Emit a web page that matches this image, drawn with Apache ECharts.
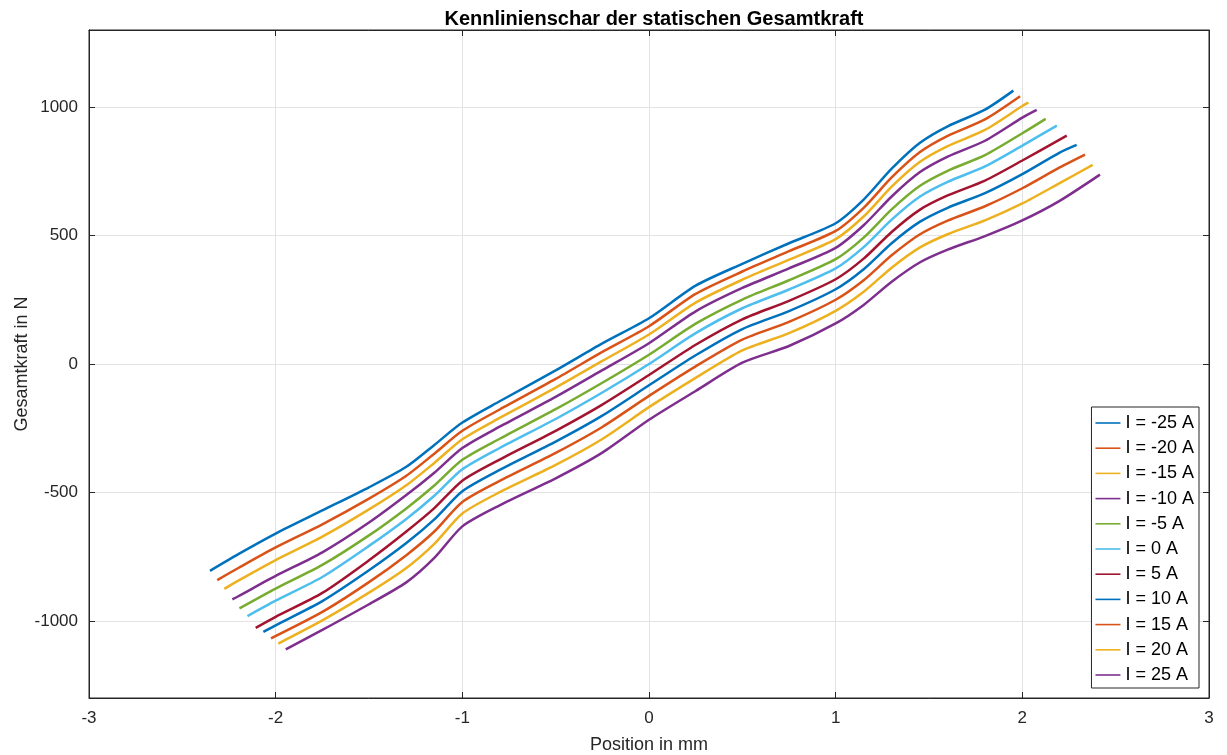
<!DOCTYPE html>
<html>
<head>
<meta charset="utf-8">
<script src="https://cdn.jsdelivr.net/npm/echarts@6/dist/echarts.min.js"></script>
<style>
html,body{margin:0;padding:0;background:#fff;}
#chart{width:1227px;height:755px;}
</style>
</head>
<body>
<div id="chart"></div>
<script>
// Legend names (currents)
const currentNames = ['I = -25 A','I = -20 A','I = -15 A','I = -10 A','I = -5 A','I = 0 A','I = 5 A','I = 10 A','I = 15 A','I = 20 A','I = 25 A'];

// [position mm, force N]
const curveM25 = [[-2.352,-805],[-2.2,-740],[-2.0,-660],[-1.75,-570],[-1.5,-480],[-1.3,-400],[-1.15,-315],[-1.0,-228],[-0.8,-145],[-0.5,-25],[-0.25,80],[0,178],[0.25,305],[0.5,390],[0.75,470],[1.0,548],[1.15,640],[1.3,760],[1.45,860],[1.6,925],[1.8,990],[1.952,1064]];
const curveM20 = [[-2.313,-841],[-2.2,-794],[-2.0,-714],[-1.75,-624],[-1.5,-524],[-1.3,-435],[-1.15,-349],[-1.0,-260],[-0.8,-177],[-0.5,-58],[-0.25,47],[0,147],[0.25,273],[0.5,360],[0.75,439],[1.0,518],[1.15,608],[1.3,726],[1.45,824],[1.6,888],[1.8,952],[1.988,1042]];
const curveM15 = [[-2.275,-875],[-2.2,-843],[-2.0,-763],[-1.75,-672],[-1.5,-566],[-1.3,-472],[-1.15,-385],[-1.0,-293],[-0.8,-210],[-0.5,-92],[-0.25,12],[0,115],[0.25,239],[0.5,328],[0.75,406],[1.0,486],[1.15,574],[1.3,690],[1.45,786],[1.6,848],[1.8,911],[2.0,1004],[2.033,1017]];
const curveM10 = [[-2.232,-916],[-2.2,-904],[-2.0,-825],[-1.75,-733],[-1.5,-617],[-1.3,-510],[-1.15,-423],[-1.0,-327],[-0.8,-244],[-0.5,-128],[-0.25,-24],[0,81],[0.25,205],[0.5,296],[0.75,372],[1.0,452],[1.15,540],[1.3,652],[1.45,746],[1.6,807],[1.8,869],[2.0,959],[2.077,989]];
const curveM5 = [[-2.194,-951],[-2.0,-874],[-1.75,-782],[-1.5,-667],[-1.3,-562],[-1.15,-473],[-1.0,-373],[-0.8,-291],[-0.5,-176],[-0.25,-73],[0,36],[0.25,157],[0.5,251],[0.75,326],[1.0,408],[1.15,492],[1.3,602],[1.45,693],[1.6,752],[1.8,813],[2.0,898],[2.125,954]];
const curveP0 = [[-2.151,-981],[-2.0,-921],[-1.75,-829],[-1.5,-708],[-1.3,-603],[-1.15,-513],[-1.0,-410],[-0.8,-327],[-0.5,-214],[-0.25,-111],[0,0],[0.25,120],[0.5,217],[0.75,290],[1.0,372],[1.15,455],[1.3,562],[1.45,651],[1.6,709],[1.8,769],[2.0,850],[2.185,928]];
const curveP5 = [[-2.107,-1027],[-2.0,-984],[-1.75,-891],[-1.5,-764],[-1.3,-652],[-1.15,-561],[-1.0,-454],[-0.8,-372],[-0.5,-260],[-0.25,-158],[0,-43],[0.25,75],[0.5,174],[0.75,246],[1.0,330],[1.15,410],[1.3,514],[1.45,600],[1.6,656],[1.8,714],[2.0,792],[2.238,889]];
const curveP10 = [[-2.066,-1043],[-2.0,-1017],[-1.75,-923],[-1.5,-803],[-1.3,-697],[-1.15,-605],[-1.0,-495],[-0.8,-412],[-0.5,-302],[-0.25,-201],[0,-83],[0.25,34],[0.5,136],[0.75,206],[1.0,291],[1.15,369],[1.3,470],[1.45,553],[1.6,608],[1.8,665],[2.0,739],[2.2,823],[2.291,853]];
const curveP15 = [[-2.025,-1068],[-1.75,-965],[-1.5,-849],[-1.3,-744],[-1.15,-652],[-1.0,-537],[-0.8,-455],[-0.5,-346],[-0.25,-245],[0,-124],[0.25,-9],[0.5,95],[0.75,164],[1.0,250],[1.15,326],[1.3,423],[1.45,504],[1.6,558],[1.8,614],[2.0,684],[2.2,765],[2.336,815]];
const curveP20 = [[-1.986,-1088],[-1.75,-998],[-1.5,-890],[-1.3,-794],[-1.15,-700],[-1.0,-582],[-0.8,-499],[-0.5,-393],[-0.25,-292],[0,-168],[0.25,-54],[0.5,53],[0.75,120],[1.0,207],[1.15,281],[1.3,375],[1.45,453],[1.6,505],[1.8,559],[2.0,625],[2.2,704],[2.377,775]];
const curveP25 = [[-1.946,-1111],[-1.75,-1035],[-1.5,-935],[-1.3,-850],[-1.15,-755],[-1.0,-632],[-0.8,-550],[-0.5,-445],[-0.25,-345],[0,-217],[0.25,-105],[0.5,5],[0.75,70],[1.0,158],[1.15,230],[1.3,320],[1.45,395],[1.6,445],[1.8,498],[2.0,559],[2.2,635],[2.416,737]];

const curves = [curveM25,curveM20,curveM15,curveM10,curveM5,curveP0,curveP5,curveP10,curveP15,curveP20,curveP25];
const colors = ['#0072BD','#D95319','#EDB120','#7E2F8E','#77AC30','#4DBEEE','#A2142F','#0072BD','#D95319','#EDB120','#7E2F8E'];

const FONT = '"Liberation Sans", Arial, Helvetica, sans-serif';
const axisCol = '#262626';

const chart = echarts.init(document.getElementById('chart'), null, {renderer:'canvas'});

const series = curves.map((c, i) => ({
  name: currentNames[i],
  type: 'line',
  data: c,
  symbol: 'none',
  showSymbol: false,
  smooth: 0.25,
  lineStyle: {width: 2.5, color: colors[i]},
  itemStyle: {color: colors[i]},
  emphasis: {disabled: true},
  animation: false,
  z: 2 + i
}));

chart.setOption({
  animation: false,
  backgroundColor: '#fff',
  color: colors,
  title: {
    text: 'Kennlinienschar der statischen Gesamtkraft',
    left: 649, top: 4, textAlign: 'center',
    textStyle: {fontFamily: FONT, fontSize: 20, fontWeight: 'bold', color: '#000'}
  },
  grid: {left: 89, right: 18, top: 30, bottom: 57, show: true, borderColor: axisCol, borderWidth: 1, backgroundColor: '#fff',
    containLabel: false, outerBoundsMode: 'none'},
  legend: {
    orient: 'vertical', right: 28, bottom: 67,
    data: currentNames,
    icon: 'rect',
    backgroundColor: '#fff', borderColor: axisCol, borderWidth: 1, borderRadius: 0,
    padding: [7, 5, 4, 4],
    itemWidth: 25, itemHeight: 1.6, itemGap: 7.2,
    textStyle: {fontFamily: FONT, fontSize: 18, lineHeight: 18, color: '#000'},
    selectedMode: false
  },
  xAxis: [{
    type: 'value', min: -3, max: 3, interval: 1,
    name: 'Position in mm', nameLocation: 'middle', nameGap: 38,
    nameTextStyle: {fontFamily: FONT, fontSize: 18, color: axisCol},
    axisLine: {show: true, onZero: false, lineStyle: {color: axisCol, width: 1}},
    axisTick: {show: true, inside: true, length: 6, lineStyle: {color: axisCol}},
    axisLabel: {fontFamily: FONT, fontSize: 17, color: axisCol, margin: 12},
    splitLine: {show: true, lineStyle: {color: '#e3e3e3', width: 1}}
  },{
    type: 'value', min: -3, max: 3, interval: 1, position: 'top',
    axisLine: {show: true, onZero: false, lineStyle: {color: axisCol, width: 1}},
    axisTick: {show: true, inside: true, length: 6, lineStyle: {color: axisCol}},
    axisLabel: {show: false}, splitLine: {show: false}
  }],
  yAxis: [{
    type: 'value', min: -1300, max: 1300, splitNumber: 5,
    name: 'Gesamtkraft in N', nameLocation: 'middle', nameGap: 58, nameMoveOverlap: false,
    nameTextStyle: {fontFamily: FONT, fontSize: 18, color: axisCol},
    axisLine: {show: true, onZero: false, lineStyle: {color: axisCol, width: 1}},
    axisTick: {show: true, inside: true, length: 6, lineStyle: {color: axisCol}},
    axisLabel: {fontFamily: FONT, fontSize: 17, color: axisCol, margin: 11, showMinLabel: false, showMaxLabel: false,
      formatter: v => (v % 500 === 0 ? String(v) : '')},
    splitLine: {show: true, lineStyle: {color: '#e3e3e3', width: 1}}
  },{
    type: 'value', min: -1300, max: 1300, splitNumber: 5, position: 'right',
    axisLine: {show: true, onZero: false, lineStyle: {color: axisCol, width: 1}},
    axisTick: {show: true, inside: true, length: 6, lineStyle: {color: axisCol}},
    axisLabel: {show: false}, splitLine: {show: false}
  }],
  series: series
});
</script>
</body>
</html>
